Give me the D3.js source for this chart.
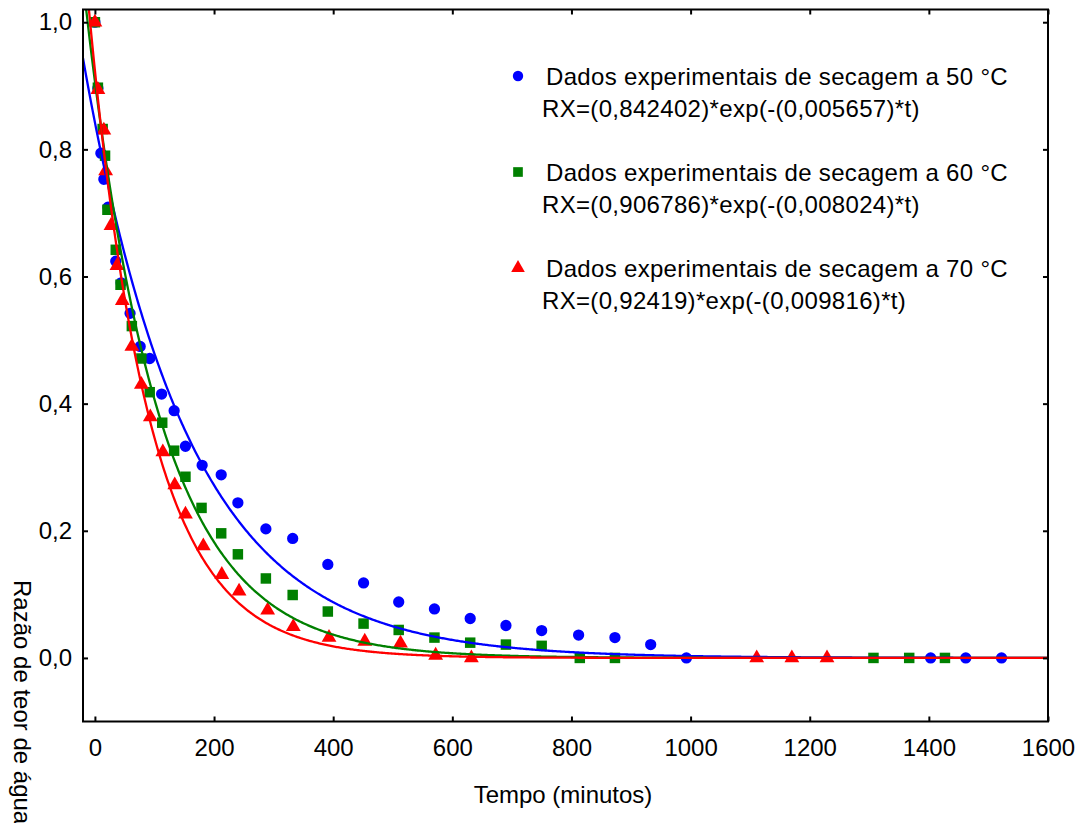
<!DOCTYPE html>
<html>
<head>
<meta charset="utf-8">
<script src="https://cdnjs.cloudflare.com/ajax/libs/d3/7.8.5/d3.min.js"></script>
<style>
  body { margin: 0; background: #fff; }
  svg text { font-family: "Liberation Sans", Arial, sans-serif; fill: #000; }
</style>
</head>
<body>
<div id="chart"></div>
<script>
// data
var tempo50 = [0, 5, 10, 15, 22, 35, 44, 59, 76, 92, 112, 133, 152, 180, 212, 240, 287, 332, 391, 451, 510, 570, 630, 690, 750, 812, 873, 933, 993, 1403, 1462, 1522];
var rx50 = [1.0, 0.896, 0.794, 0.753, 0.709, 0.624, 0.59, 0.542, 0.49, 0.471, 0.415, 0.389, 0.333, 0.303, 0.288, 0.244, 0.203, 0.188, 0.147, 0.118, 0.088, 0.077, 0.062, 0.051, 0.043, 0.036, 0.032, 0.021, 0.0, 0.0, 0.0, 0.0];

var tempo60 = [0, 5, 13, 17, 21, 35, 43, 62, 78, 92, 113, 133, 152, 179, 212, 240, 287, 332, 391, 451, 510, 570, 630, 690, 750, 814, 873, 1307, 1367, 1427];
var rx60 = [1.0, 0.897, 0.832, 0.79, 0.705, 0.642, 0.587, 0.522, 0.471, 0.418, 0.37, 0.326, 0.285, 0.236, 0.196, 0.163, 0.125, 0.099, 0.073, 0.054, 0.044, 0.032, 0.024, 0.021, 0.019, 0.0, 0.0, 0.0, 0.0, 0.0];

var tempo70 = [0, 5, 15, 18, 27, 37, 46, 62, 78, 93, 114, 134, 152, 182, 213, 242, 290, 333, 393, 453, 513, 572, 632, 1111, 1170, 1229];
var rx70 = [1.0, 0.894, 0.83, 0.766, 0.68, 0.617, 0.562, 0.49, 0.43, 0.379, 0.324, 0.272, 0.226, 0.176, 0.131, 0.105, 0.075, 0.049, 0.032, 0.026, 0.023, 0.004, 0.0, 0.0, 0.0, 0.0];

// fitted model RX = a*exp(-k*t), parameters from the legend
var fitA = [0.842402, 0.906786, 0.92419];
var fitK = [0.005657, 0.008024, 0.009816];

var seriesNames = ["Dados experimentais de secagem a 50 °C", "Dados experimentais de secagem a 60 °C", "Dados experimentais de secagem a 70 °C"];
var fitLabels = ["RX=(0,842402)*exp(-(0,005657)*t)", "RX=(0,906786)*exp(-(0,008024)*t)", "RX=(0,92419)*exp(-(0,009816)*t)"];
var colors = ["#0000ff", "#008000", "#ff0000"];
var symbols = [d3.symbolCircle, d3.symbolSquare, d3.symbolTriangle];
var symSize = [100, 110, 95];

var xTicks = [0, 200, 400, 600, 800, 1000, 1200, 1400, 1600];
var yTicks = [0, 0.2, 0.4, 0.6, 0.8, 1.0];

function drawChart() {
  var width = 1082, height = 823;
  var pL = 83, pR = 1048, pT = 9.5, pB = 721.5;

  var svg = d3.select("#chart").append("svg")
    .attr("width", width)
    .attr("height", height);

  var x = d3.scaleLinear().domain([-20, 1600]).range([pL, pR]);
  var y = d3.scaleLinear().domain([-0.1, 1.02]).range([pB, pT]);

  var comma = function(d) { return d3.format(".1f")(d).replace(".", ","); };

  svg.append("defs").append("clipPath").attr("id", "plot")
    .append("rect").attr("x", pL).attr("y", pT)
    .attr("width", pR - pL).attr("height", pB - pT);

  // markers
  var datasets = [
    tempo50.map(function(t, i) { return [t, rx50[i]]; }),
    tempo60.map(function(t, i) { return [t, rx60[i]]; }),
    tempo70.map(function(t, i) { return [t, rx70[i]]; })
  ];

  datasets.forEach(function(data, s) {
    svg.append("g")
      .selectAll("path")
      .data(data)
      .enter()
      .append("path")
      .attr("d", d3.symbol().type(symbols[s]).size(symSize[s]))
      .attr("transform", function(d) { return "translate(" + x(d[0]) + "," + y(d[1]) + ")"; })
      .attr("fill", colors[s]);
  });

  // fitted curves
  var tGrid = d3.range(-20, 1601, 2);
  fitA.forEach(function(a, s) {
    var line = d3.line()
      .x(function(t) { return x(t); })
      .y(function(t) { return y(a * Math.exp(-fitK[s] * t)); });
    svg.append("path")
      .datum(tGrid)
      .attr("clip-path", "url(#plot)")
      .attr("d", line)
      .attr("fill", "none")
      .attr("stroke", colors[s])
      .attr("stroke-width", 2.3);
  });

  // axes, ticks pointing inward
  function styleAxis(g) {
    g.select(".domain").remove();
    g.selectAll(".tick line").attr("stroke", "#000").attr("stroke-width", 2);
    g.selectAll(".tick text").attr("font-size", "24px").attr("font-family", "Liberation Sans, Arial, sans-serif");
  }

  svg.append("g")
    .attr("transform", "translate(0," + pB + ")")
    .call(d3.axisBottom(x).tickValues(xTicks).tickSize(-5).tickPadding(17).tickFormat(d3.format("d")))
    .call(styleAxis);

  svg.append("g")
    .attr("transform", "translate(0," + pT + ")")
    .call(d3.axisTop(x).tickValues(xTicks).tickSize(-5).tickFormat(""))
    .call(styleAxis);

  svg.append("g")
    .attr("transform", "translate(" + pL + ",0)")
    .call(d3.axisLeft(y).tickValues(yTicks).tickSize(-5).tickPadding(11).tickFormat(comma))
    .call(styleAxis);

  svg.append("g")
    .attr("transform", "translate(" + pR + ",0)")
    .call(d3.axisRight(y).tickValues(yTicks).tickSize(-5).tickFormat(""))
    .call(styleAxis);

  // frame
  svg.append("rect")
    .attr("x", pL).attr("y", pT)
    .attr("width", pR - pL).attr("height", pB - pT)
    .attr("fill", "none").attr("stroke", "#000").attr("stroke-width", 2);

  // axis titles
  svg.append("text")
    .attr("x", 563).attr("y", 803)
    .attr("text-anchor", "middle")
    .attr("font-size", "24px")
    .text("Tempo (minutos)");

  svg.append("text")
    .attr("transform", "translate(14,580) rotate(90)")
    .attr("font-size", "24px")
    .text("Razão de teor de água");

  // legend
  var legend = svg.append("g");
  seriesNames.forEach(function(name, s) {
    var base = 85 + s * 96;
    legend.append("path")
      .attr("d", d3.symbol().type(symbols[s]).size(symSize[s] * 0.85))
      .attr("transform", "translate(518," + (base - 9) + ")")
      .attr("fill", colors[s]);
    legend.append("text")
      .attr("x", 546).attr("y", base)
      .attr("font-size", "24px")
      .attr("letter-spacing", "0.32px")
      .text(name);
    legend.append("text")
      .attr("x", 542).attr("y", base + 32)
      .attr("font-size", "24px")
      .attr("letter-spacing", "0.32px")
      .text(fitLabels[s]);
  });
}

drawChart();
</script>
</body>
</html>
